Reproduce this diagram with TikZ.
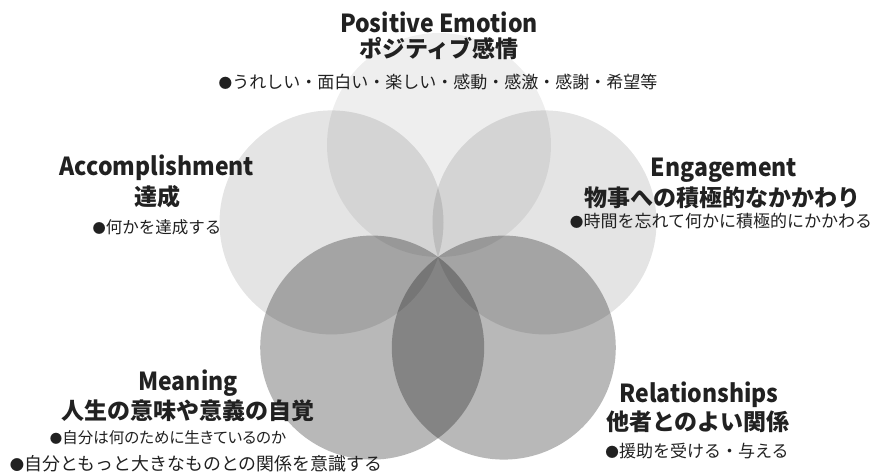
\documentclass[tikz,border=0pt]{standalone}
\usepackage{fontspec}
\setmainfont{Noto Sans CJK JP}
\newfontfamily\jpprop{Noto Sans CJK JP}[RawFeature=+palt]
\newcommand\bulmark{\makebox[0.8em][l]{\scalebox{0.8}{●}}}
\begin{document}
\begin{tikzpicture}[x=1pt,y=-1pt,
  petal/.style={circle, minimum size=224pt, inner sep=0pt, fill=black},
  ttl/.style={font=\fontsize{23}{23}\selectfont\bfseries, text=black!87, inner sep=0pt, anchor=center, yscale=1.08},
  jttl/.style={font=\fontsize{23}{23}\selectfont\bfseries, text=black!87, inner sep=0pt, anchor=center},
  bul/.style={font=\fontsize{17}{17}\selectfont, text=black!87, inner sep=0pt, anchor=center}]
\useasboundingbox (0,0) rectangle (876,474);
\fill[white] (0,0) rectangle (876,474);
% circles
\node[petal, fill opacity=0.065] (cpe) at (439,145) {};
\node[petal, fill opacity=0.105] (cac) at (331.5,222.4) {};
\node[petal, fill opacity=0.105] (cen) at (544.5,222.4) {};
\node[petal, fill opacity=0.28] (cme) at (372.2,347.6) {};
\node[petal, fill opacity=0.28] (cre) at (503.8,347.6) {};
% Positive Emotion
\node[ttl] (pe1) at (439,22) {Positive Emotion};
\node[jttl] (pe2) at (439,49) {ポジティブ感情};
\node[bul] (pe3) at (438,82) {\bulmark うれしい・面白い・楽しい・感動・感激・感謝・希望等};
% Accomplishment
\node[ttl] (ac1) at (157,168) {Accomplishment};
\node[jttl] (ac2) at (157,197) {達成};
\node[bul, font=\fontsize{16.5}{16.5}\selectfont] (ac3) at (157,227) {\bulmark 何かを達成する};
% Engagement
\node[ttl] (en1) at (724,170) {Engagement};
\node[jttl] (en2) at (722,198) {物事への積極的なかかわり};
\node[bul] (en3) at (721,221) {\bulmark 時間を忘れて何かに積極的にかかわる};
% Meaning
\node[ttl] (me1) at (188,383) {Meaning};
\node[jttl] (me2) at (188,411) {人生の意味や意義の自覚};
\node[bul, font=\fontsize{15.5}{15.5}\jpprop\selectfont] (me3) at (168,438) {\bulmark 自分は何のために生きているのか};
\node[bul, font=\fontsize{17.9}{17.9}\selectfont] (me4) at (196,464) {\bulmark 自分ともっと大きなものとの関係を意識する};
% Relationships
\node[ttl] (re1) at (699,395) {Relationships};
\node[jttl] (re2) at (698,422) {他者とのよい関係};
\node[bul] (re3) at (697,451) {\bulmark 援助を受ける・与える};
\end{tikzpicture}
\end{document}
